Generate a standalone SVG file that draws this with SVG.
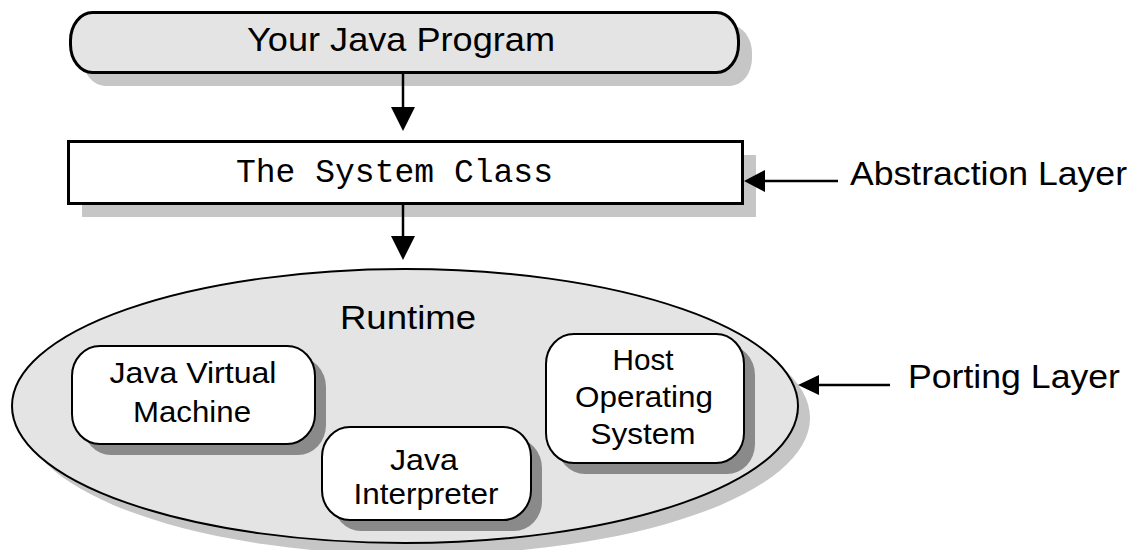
<svg xmlns="http://www.w3.org/2000/svg" width="1136" height="550" viewBox="0 0 1136 550">
<style>
text{font-family:"Liberation Sans",Arial,sans-serif;fill:#000}
.t{font-size:34px}
.s{font-size:30px}
.mono{font-family:"Liberation Mono","Courier New",monospace;font-size:33px}
.shl{fill:#c6c6c6}
.shd{fill:#8a8a8a}
.edge{stroke:#000;stroke-width:2.5;fill:none}
.head{fill:#000}
</style>
<rect width="1136" height="550" fill="#fff"/>

<g id="node-program">
<rect class="shl" x="83" y="25" width="669" height="61" rx="22" ry="28"/>
<rect x="70.5" y="12.5" width="668" height="60" rx="22" ry="28" fill="#e4e4e4" stroke="#000" stroke-width="3"/>
<text class="t" x="401" y="51" text-anchor="middle" textLength="308" lengthAdjust="spacingAndGlyphs">Your Java Program</text>
</g>

<g id="node-system">
<rect class="shl" x="82" y="155" width="674" height="62"/>
<rect x="68.5" y="141.5" width="674" height="62" fill="#fff" stroke="#000" stroke-width="3"/>
<text class="mono" x="236" y="182" textLength="317" lengthAdjust="spacingAndGlyphs">The System Class</text>
</g>

<g id="node-runtime">
<ellipse class="shl" cx="417" cy="418" rx="393" ry="137"/>
<ellipse cx="405" cy="406" rx="393" ry="137" fill="#e4e4e4" stroke="#000" stroke-width="2"/>
<text class="t" x="408" y="329" text-anchor="middle" textLength="136" lengthAdjust="spacingAndGlyphs">Runtime</text>
</g>

<g id="node-jvm">
<rect class="shd" x="83" y="357" width="243" height="98" rx="28" ry="30"/>
<rect x="72" y="346" width="243" height="98" rx="28" ry="30" fill="#fff" stroke="#000" stroke-width="2"/>
<text class="s" x="193" y="383" text-anchor="middle" textLength="167" lengthAdjust="spacingAndGlyphs">Java Virtual</text>
<text class="s" x="192" y="422" text-anchor="middle" textLength="118" lengthAdjust="spacingAndGlyphs">Machine</text>
</g>

<g id="node-interpreter">
<rect class="shd" x="333" y="438" width="209" height="93" rx="28" ry="30"/>
<rect x="322" y="427" width="209" height="93" rx="28" ry="30" fill="#fff" stroke="#000" stroke-width="2"/>
<text class="s" x="424" y="470" text-anchor="middle" textLength="68" lengthAdjust="spacingAndGlyphs">Java</text>
<text class="s" x="426" y="504" text-anchor="middle" textLength="145" lengthAdjust="spacingAndGlyphs">Interpreter</text>
</g>

<g id="node-host">
<rect class="shd" x="557" y="345" width="198" height="129" rx="28" ry="30"/>
<rect x="546" y="334" width="198" height="129" rx="28" ry="30" fill="#fff" stroke="#000" stroke-width="2"/>
<text class="s" x="643" y="370" text-anchor="middle" textLength="61" lengthAdjust="spacingAndGlyphs">Host</text>
<text class="s" x="644" y="407" text-anchor="middle" textLength="138" lengthAdjust="spacingAndGlyphs">Operating</text>
<text class="s" x="643" y="444" text-anchor="middle" textLength="105" lengthAdjust="spacingAndGlyphs">System</text>
</g>

<g id="label-abstraction">
<text class="t" x="850" y="185" textLength="277" lengthAdjust="spacingAndGlyphs">Abstraction Layer</text>
</g>
<g id="label-porting">
<text class="t" x="908" y="388" textLength="212" lengthAdjust="spacingAndGlyphs">Porting Layer</text>
</g>

<g id="connectors">
<line class="edge" x1="403" y1="73" x2="403" y2="110"/>
<polygon class="head" points="391,107 415,107 403,131"/>
<line class="edge" x1="403" y1="204" x2="403" y2="238"/>
<polygon class="head" points="391,236 415,236 403,260"/>
<line class="edge" x1="838" y1="181" x2="762" y2="181"/>
<polygon class="head" points="744,181 765,170 765,192"/>
<line class="edge" x1="890" y1="385" x2="815" y2="385"/>
<polygon class="head" points="798,385 819,375 819,395"/>
</g>
</svg>
